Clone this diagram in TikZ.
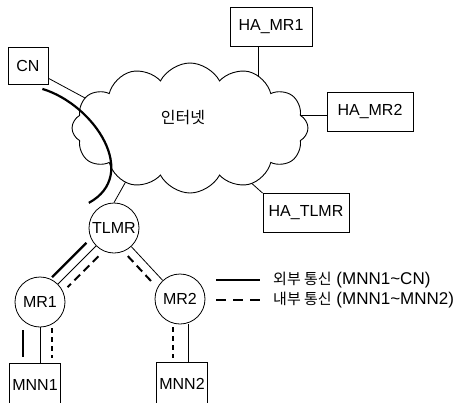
\documentclass[tikz,border=0pt]{standalone}
\usepackage{fontspec}
\setmainfont{Liberation Sans}
\newfontfamily\krfont{Noto Sans CJK KR}
\usetikzlibrary{shapes.symbols,calc,backgrounds}

\begin{document}
\begin{tikzpicture}[
  x=1pt, y=-1pt,
  font=\fontsize{16}{19}\selectfont,
  box/.style   ={rectangle, draw=black, line width=0.8pt, fill=white,
                 minimum height=39pt, inner sep=2pt},
  router/.style={circle, draw=black, line width=0.8pt, fill=white,
                 minimum size=50pt, inner sep=0pt},
  net/.style   ={cloud, cloud puffs=12, cloud puff arc=125, cloud ignores aspect,
                 draw=black, line width=0.9pt, fill=white,
                 minimum width=236pt, minimum height=130pt},
  link/.style  ={draw=black, line width=0.8pt},
  ext/.style   ={draw=black, line width=2.2pt},
  int/.style   ={draw=black, line width=2pt, dash pattern=on 8pt off 5pt},
  lbl/.style   ={anchor=west, inner sep=0pt, font=\fontsize{17}{20}\selectfont}
]
\useasboundingbox (0,0) rectangle (474,402);
\clip (0,0) rectangle (474,402);

\node[net] (inet) at (190,128) {};
\node (inettxt) at (183,118) {\krfont 인터넷};

\node[box, minimum width=40pt, minimum height=37pt] (cn) at (28,66) {CN};
\node[box, minimum width=82pt] (hamr1) at (271,27) {HA\_MR1};
\node[box, minimum width=86pt] (hamr2) at (370,112) {HA\_MR2};
\node[box, minimum width=86pt] (hatlmr) at (306,213) {HA\_TLMR};

\node[router] (tlmr) at (114,228) {TLMR};
\node[router] (mr1) at (40,302) {MR1};
\node[router] (mr2) at (180,299) {MR2};

\node[box, minimum width=51pt, minimum height=44pt] (mnn1) at (35,385) {MNN1};
\node[box, minimum width=51pt, minimum height=44pt] (mnn2) at (182,384) {MNN2};

% plain links, hidden behind the cloud and the routers
\begin{scope}[on background layer]
  \draw[link] (cn.-31) -- ([xshift=-40pt,yshift=-5pt]inet.center);
  \draw[link] ([xshift=-13pt]hamr1.south) |- (inet.center);
  \draw[link] ([yshift=-3pt]hamr2.west) -| (inet.center);
  \draw[link] (hatlmr.north west) -- (inet.center);
  \draw[link] (tlmr.north) -- ([xshift=-34pt]inet.center);
  \draw[link] (tlmr) -- (mr1);
  \draw[link] (tlmr) -- (mr2);
  \draw[link] (mr1) -- (mr1 |- mnn1.north);
  \draw[link] ([xshift=8pt]mr2.south) -- ([xshift=8pt]mr2.south |- mnn2.north);
\end{scope}

% external traffic
\draw[ext] ([shift={(-6pt,-4pt)}]cn.south east) .. controls (95,105) and (140,175) .. ($(tlmr)!1.4!(tlmr.north west)$);
\draw[ext, shorten <=30pt, shorten >=26pt] ($(tlmr)!9pt!-90:(mr1)$) -- ($(mr1)!9pt!90:(tlmr)$);
\draw[ext, shorten <=3pt, shorten >=6pt] ([xshift=-17pt]mr1.south) -- ([xshift=-17pt]mr1.south |- mnn1.north);

% internal traffic
\draw[int, shorten <=31pt, shorten >=30pt] ($(tlmr)!9pt!90:(mr1)$) -- ($(mr1)!9pt!-90:(tlmr)$);
\draw[int, shorten <=30pt, shorten >=28pt] ($(tlmr)!9pt!-90:(mr2)$) -- ($(mr2)!9pt!90:(tlmr)$);
\draw[int, dash pattern=on 5pt off 4pt, shorten <=1pt, shorten >=5pt] ([xshift=12pt]mr1.south) -- ([xshift=12pt]mr1.south |- mnn1.north);
\draw[int, dash pattern=on 5pt off 4pt, shorten <=3pt, shorten >=4pt] ([xshift=-7pt]mr2.south) -- ([xshift=-7pt]mr2.south |- mnn2.north);

% legend
\coordinate (extA) at (216,280);
\coordinate (extB) at (260,280);
\coordinate (intA) at (216,300);
\coordinate (intB) at (260,300);
\draw[link, line width=1.5pt] (extA) -- (extB);
\draw[int, line width=1.5pt, dash pattern=on 10pt off 7pt] (intA) -- (intB);
\node[lbl] (extlbl) at (273,280) {{\krfont\fontsize{15}{17}\selectfont 외부 통신} (MNN1\textasciitilde CN)};
\node[lbl] (intlbl) at (273,300) {{\krfont\fontsize{15}{17}\selectfont 내부 통신} (MNN1\textasciitilde MNN2)};
\end{tikzpicture}
\end{document}
